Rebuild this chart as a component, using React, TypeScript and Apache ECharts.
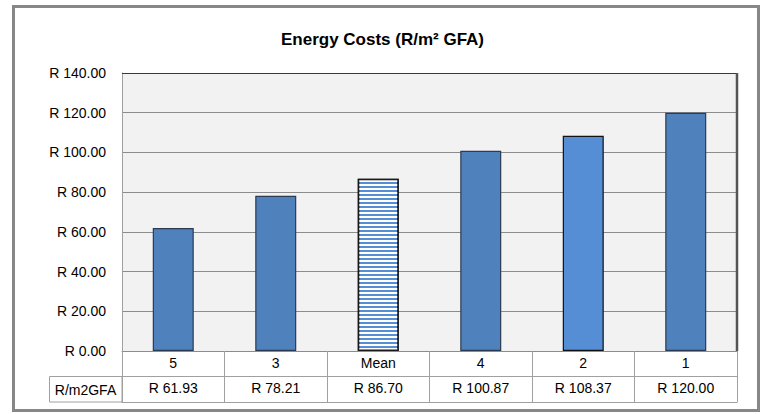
import React, { useEffect, useRef } from "react";
import * as echarts from "echarts";

const categories = ["5", "3", "Mean", "4", "2", "1"];
const values = [61.93, 78.21, 86.7, 100.87, 108.37, 120.0];
const seriesName = "R/m2GFA";
const yTicks = { min: 0, max: 140, interval: 20 };

const FONT = "'Liberation Sans Narrow', 'Arial Narrow', 'Liberation Sans', Arial, sans-serif";

const fmt = (v: number) => "R " + v.toFixed(2);

export default function App() {
  const ref = useRef<HTMLDivElement>(null);
  useEffect(() => {
    if (!ref.current) return;
    const chart = echarts.init(ref.current, null, { renderer: "svg" });
    const base = "#4F81BD";
    const light = "#558ED5";
    const data = values.map((v, i) => {
      const c = categories[i];
      if (c === "Mean") {
        return {
          value: v,
          itemStyle: {
            color: light,
            borderColor: "#1a1a1a",
            borderWidth: 1.5,
            decal: {
              symbol: "rect",
              symbolSize: 1,
              color: "#ffffff",
              dashArrayX: [1, 0],
              dashArrayY: [1.3, 2],
              rotation: 0,
            },
          },
        };
      }
      if (c === "2") {
        return { value: v, itemStyle: { color: light, borderColor: "#111111", borderWidth: 1.2 } };
      }
      return { value: v, itemStyle: { color: base, borderColor: "#2b3b52", borderWidth: 1.2 } };
    });
    chart.setOption({
      animation: false,
      backgroundColor: "#ffffff",
      title: {
        text: "Energy Costs (R/m² GFA)",
        left: "center",
        top: 26,
        textStyle: { fontFamily: FONT, fontSize: 17, fontWeight: "bold", color: "#000" },
      },
      grid: {
        left: 122,
        right: 28,
        top: 73,
        bottom: 63,
        show: true,
        backgroundColor: "#F2F2F2",
        borderColor: "#bbbbbb",
        borderWidth: 0,
      },
      xAxis: [
        {
          type: "category",
          data: categories,
          position: "bottom",
          axisLine: { show: true, lineStyle: { color: "#8c8c8c", width: 1 } },
          axisTick: { show: true, length: 51, lineStyle: { color: "#a0a0a0" } },
          axisLabel: { fontFamily: FONT, fontSize: 14, color: "#000", margin: 5 },
        },
        {
          type: "category",
          data: values.map(fmt),
          position: "bottom",
          offset: 25,
          axisLine: { show: true, lineStyle: { color: "#a0a0a0", width: 1 } },
          axisTick: { show: false },
          axisLabel: { fontFamily: FONT, fontSize: 14, color: "#000", margin: 5 },
        },
        {
          type: "category",
          data: categories,
          position: "bottom",
          offset: 51,
          axisLine: { show: true, lineStyle: { color: "#a0a0a0", width: 1 } },
          axisTick: { show: false },
          axisLabel: { show: false },
        },
      ],
      yAxis: {
        type: "value",
        min: yTicks.min,
        max: yTicks.max,
        interval: yTicks.interval,
        axisLine: { show: true, lineStyle: { color: "#a0a0a0" } },
        axisTick: { show: false },
        splitLine: { show: true, lineStyle: { color: "#8c8c8c", width: 1 } },
        axisLabel: {
          fontFamily: FONT,
          fontSize: 14,
          color: "#000",
          margin: 16,
          formatter: (v: number) => fmt(v),
        },
      },
      series: [
        {
          name: seriesName,
          type: "bar",
          xAxisIndex: 0,
          barWidth: "40%",
          data,
        },
      ],
      graphic: [
        {
          type: "rect",
          shape: { x: 13.5, y: 6.5, width: 745, height: 404 },
          style: { fill: "none", stroke: "#878787", lineWidth: 3 },
          silent: true,
          z: 100,
        },
        {
          type: "line",
          shape: { x1: 122, y1: 73.5, x2: 737, y2: 73.5 },
          style: { stroke: "#3a3a3a", lineWidth: 1 },
          z: 100,
        },
        {
          type: "line",
          shape: { x1: 737, y1: 73, x2: 737, y2: 351 },
          style: { stroke: "#555555", lineWidth: 2.5 },
          z: 100,
        },
        {
          type: "rect",
          shape: { x: 49.5, y: 376.5, width: 72.5, height: 25.5 },
          style: { fill: "none", stroke: "#a0a0a0", lineWidth: 1 },
          z: 100,
        },
        {
          type: "text",
          x: 85.5,
          y: 389.5,
          style: {
            text: seriesName,
            fontFamily: FONT,
            fontSize: 14,
            fill: "#000",
            align: "center",
            verticalAlign: "middle",
          },
          z: 100,
        },
      ],
    });
    return () => chart.dispose();
  }, []);
  return (
    <div
      ref={ref}
      style={{ position: "fixed", left: 0, top: 0, width: 765, height: 414 }}
    />
  );
}
